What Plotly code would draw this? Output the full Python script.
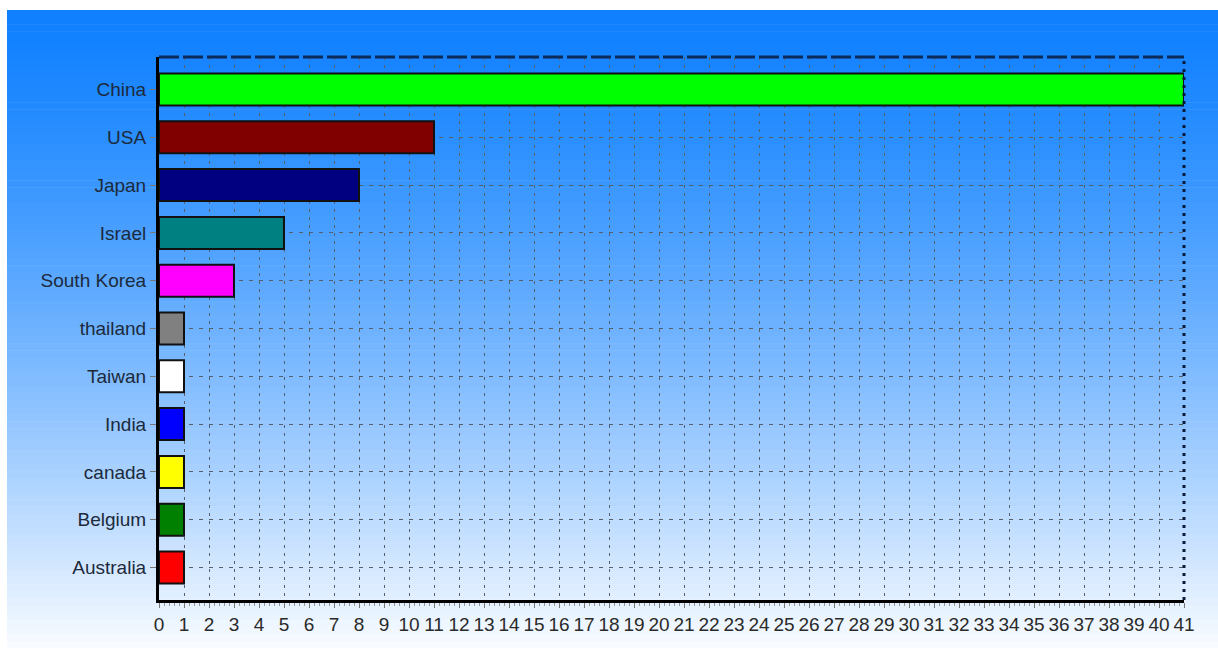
import plotly.graph_objects as go

# data
countries = ["China", "USA", "Japan", "Israel", "South Korea", "thailand",
             "Taiwan", "India", "canada", "Belgium", "Australia"]
counts = [41, 11, 8, 5, 3, 1, 1, 1, 1, 1, 1]
bar_colors = ["#00FF00", "#800000", "#000080", "#008080", "#FF00FF", "#808080",
              "#FFFFFF", "#0000FF", "#FFFF00", "#008000", "#FF0000"]
x_ticks = list(range(0, 42))

W, H = 1218, 648
ML, MR, MT, MB = 159, 34, 57, 48

fig = go.Figure()

fig.add_trace(go.Bar(
    x=counts,
    y=countries,
    orientation="h",
    width=0.67,
    marker=dict(color=bar_colors, line=dict(color="#111111", width=2)),
    showlegend=False,
))

# gradient backdrop (blue at top fading to near white), drawn as thin bands
pw = W - ML - MR
ph = H - MT - MB
def px_to_paper_x(px):
    return (px - ML) / pw
def px_to_paper_y(py):
    return (H - MB - py) / ph

top_c = (15, 128, 255)
bot_c = (248, 251, 255)
n_bands = 90
y_top, y_bot = 10, H
for i in range(n_bands):
    t = (i / (n_bands - 1)) ** 1.3
    c = tuple(int(round(a + (b - a) * t)) for a, b in zip(top_c, bot_c))
    y0 = y_top + (y_bot - y_top) * i / n_bands
    y1 = y_top + (y_bot - y_top) * (i + 1) / n_bands
    fig.add_shape(
        type="rect", xref="paper", yref="paper", layer="below",
        x0=px_to_paper_x(7), x1=px_to_paper_x(W + 2),
        y0=px_to_paper_y(y1 + 0.6), y1=px_to_paper_y(y0),
        fillcolor="rgb(%d,%d,%d)" % c, line=dict(width=0),
    )

# top (dashed) and right (dotted) frame of the plot area
fig.add_shape(type="line", xref="paper", yref="paper", x0=0, x1=1, y0=1, y1=1,
              line=dict(color="#0a2a5a", width=3, dash="20px,4px"))
fig.add_shape(type="line", xref="paper", yref="paper", x0=1, x1=1, y0=0, y1=1,
              line=dict(color="#0a1a3a", width=3, dash="3px,5px"))

fig.update_layout(
    width=W, height=H,
    margin=dict(l=ML, r=MR, t=MT, b=MB),
    paper_bgcolor="white",
    plot_bgcolor="rgba(0,0,0,0)",
    font=dict(family="Liberation Sans, Arial, sans-serif", size=19, color="#1c2a3c"),
    bargap=0.33,
    xaxis=dict(
        range=[0, 41],
        tickmode="array",
        tickvals=x_ticks,
        ticktext=[str(v) for v in x_ticks],
        tickfont=dict(size=19, color="#2a2a2a"),
        showgrid=True,
        gridcolor="#55606c",
        griddash="3px,5px",
        gridwidth=1,
        zeroline=False,
        showline=True,
        linecolor="black",
        linewidth=3,
        ticks="outside",
        ticklen=5,
        tickcolor="#777777",
        minor=dict(dtick=0.2, ticks="outside", ticklen=3, tickcolor="#999999", showgrid=False),
        fixedrange=True,
    ),
    yaxis=dict(
        categoryorder="array",
        categoryarray=countries,
        range=[10.68, -0.68],
        tickfont=dict(size=19, color="#1c2a3c"),
        showgrid=True,
        gridcolor="#55606c",
        griddash="4px,6px",
        gridwidth=1,
        zeroline=False,
        showline=True,
        linecolor="black",
        linewidth=3,
        ticks="outside",
        ticklen=6,
        tickcolor="#777777",
        fixedrange=True,
    ),
)

fig.write_html("out.html", config={"displayModeBar": False},
               post_script="document.body.style.margin='0';")
